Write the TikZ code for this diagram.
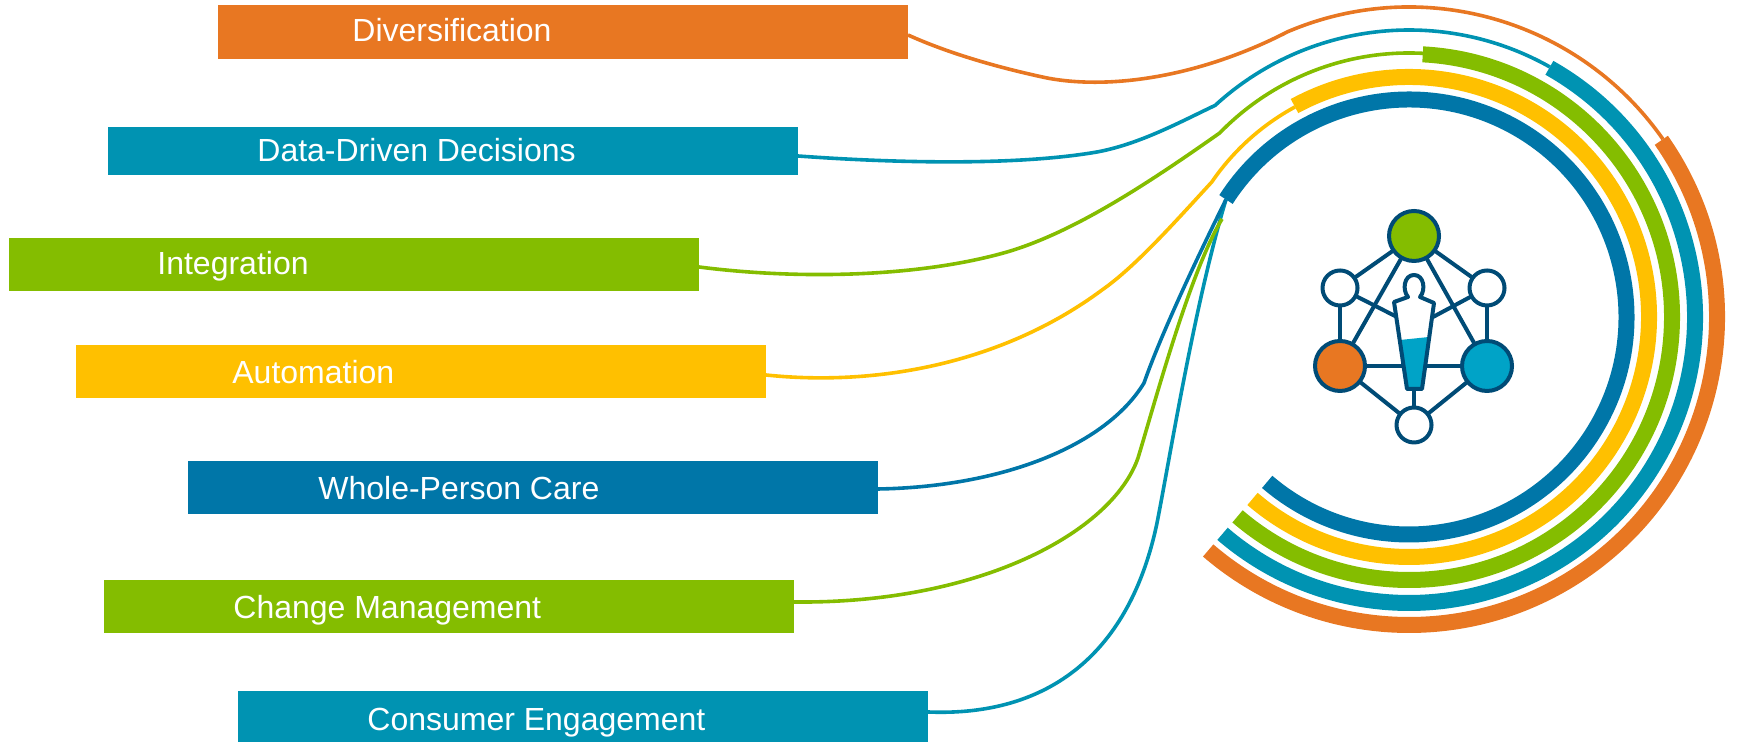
\documentclass[tikz,border=0pt]{standalone}
\usepackage{fontspec}
\setmainfont{Liberation Sans}
\usepackage{xcolor}
\usetikzlibrary{calc,backgrounds}
\definecolor{orangeband}{HTML}{E87722}
\definecolor{tealband}{HTML}{0093B2}
\definecolor{greenband}{HTML}{84BD00}
\definecolor{yellowband}{HTML}{FFC000}
\definecolor{blueband}{HTML}{0076A8}
\definecolor{iconline}{HTML}{004B76}
\definecolor{iconcyan}{HTML}{00A3C7}
\tikzset{
  banner/.style={rectangle, anchor=north west, inner sep=0pt, outer sep=0pt, minimum width=345pt},
  banner_text/.style={anchor=base west, inner sep=0pt, text=white, font=\fontsize{16}{19}\selectfont},
  ring/.style={line width=8pt},
  wire/.style={line width=1.8pt, line join=round},
  bigdot/.style={circle, draw=iconline, line width=2pt, minimum size=25pt, inner sep=0pt, outer sep=0pt},
  smalldot/.style={circle, draw=iconline, fill=white, line width=2pt, minimum size=17.5pt, inner sep=0pt, outer sep=0pt},
  iconedge/.style={draw=iconline, line width=2pt}
}

\begin{document}
\begin{tikzpicture}[x=0.5pt, y=0.5pt]
  \useasboundingbox (0,0) rectangle (1739,742);
  \coordinate (hub) at (1409,425);

  % Banners
  \node[banner, fill=orangeband, minimum height=27pt] (div) at (218,737) {};
  \node[banner, fill=tealband, minimum height=24pt] (data) at (108,615) {};
  \node[banner, fill=greenband, minimum height=26.5pt] (integ) at (9,504) {};
  \node[banner, fill=yellowband, minimum height=26.5pt] (auto) at (76,397) {};
  \node[banner, fill=blueband, minimum height=26.5pt] (whole) at (188,281) {};
  \node[banner, fill=greenband, minimum height=26.5pt] (change) at (104,162) {};
  \node[banner, fill=tealband, minimum height=25.5pt] (consumer) at (238,51) {};

  % Banner texts
  \node[banner_text] (divtext) at (352,700) {Diversification};
  \node[banner_text] (datatext) at (257,580) {Data-Driven Decisions};
  \node[banner_text] (integtext) at (157,467) {Integration};
  \node[banner_text] (autotext) at (232,358) {Automation};
  \node[banner_text] (wholetext) at (318,242) {Whole-Person Care};
  \node[banner_text] (changetext) at (233,123) {Change Management};
  \node[banner_text] (consumertext) at (367,11) {Consumer Engagement};

  % Rings
  \draw[ring, orangeband] ($(hub)+(35:308)$) coordinate (divring) arc[start angle=35, end angle=-130.7, radius=308];
  \draw[ring, tealband] ($(hub)+(60.6:286)$) coordinate (dataring) arc[start angle=60.6, end angle=-130.7, radius=286];
  \draw[ring, greenband] ($(hub)+(87:263)$) coordinate (integring) arc[start angle=87, end angle=-130.7, radius=263];
  \draw[ring, yellowband] ($(hub)+(118.5:240)$) coordinate (autoring) arc[start angle=118.5, end angle=-130.7, radius=240];
  \draw[ring, blueband] ($(hub)+(147.3:217.5)$) coordinate (wholering) arc[start angle=147.3, end angle=-130.7, radius=217.5];

  % Wires from the banners to the rings
  \draw[wire, orangeband] ($(div.east)+(0,-3)$) .. controls (950,688) and (1000,674) .. (1047,664)
       .. controls (1110,652) and (1200,665) .. ($(hub)+(113:310)$)
       arc[start angle=113, end angle=35, radius=310];
  \draw[wire, tealband] ($(data.east)+(0,-5)$) .. controls (880,580) and (1010,575) .. (1097,590)
       .. controls (1140,598) and (1180,620) .. ($(hub)+(132.5:287)$)
       arc[start angle=132.5, end angle=60.6, radius=287];
  \draw[wire, greenband] ($(integ.east)+(0,-2.5)$) .. controls (800,462) and (920,465) .. (1007,490)
       .. controls (1075,510) and (1150,560) .. ($(hub)+(135.8:264)$)
       arc[start angle=135.8, end angle=87, radius=264];
  \draw[wire, yellowband] ($(auto.east)+(0,-3.5)$) .. controls (880,355) and (1005,380) .. (1102,452)
       .. controls (1135,475) and (1175,520) .. ($(hub)+(145.6:239)$)
       arc[start angle=145.6, end angle=118.5, radius=239];

  % These three meet under the blue ring
  \coordinate (changeend) at (1222,523);
  \draw[wire, tealband] ($(consumer.east)+(0,4.5)$) .. controls (1050,25) and (1130,90) .. (1157,219)
       .. controls (1170,285) and (1195,440) .. (wholering);
  \draw[wire, greenband] ($(change.east)+(0,4.5)$) .. controls (980,138) and (1112,210) .. (1138,284)
       .. controls (1155,340) and (1190,470) .. (changeend);
  \draw[wire, blueband] ($(whole.east)+(0,-1.5)$) .. controls (1000,255) and (1105,295) .. (1144,359)
       .. controls (1160,405) and (1195,480) .. (wholering);

  % Icon
  \node[bigdot, fill=greenband] (top) at (1414,506) {};
  \node[bigdot, fill=orangeband] (left) at (1340,376) {};
  \node[bigdot, fill=iconcyan] (right) at (1487,376) {};
  \node[smalldot] (upleft) at (1340,454) {};
  \node[smalldot] (upright) at (1487,454) {};
  \node[smalldot] (low) at (1414,317) {};
  \coordinate (armleft) at (1397,425);
  \coordinate (armright) at (1433,425);
  \coordinate (foot) at (1414,353);

  \begin{scope}[on background layer]
    \draw[iconedge] (top) -- (upleft);
    \draw[iconedge] (top) -- (upright);
    \draw[iconedge] (top) -- (left);
    \draw[iconedge] (top) -- (right);
    \draw[iconedge] (upleft) -- (left);
    \draw[iconedge] (upright) -- (right);
    \draw[iconedge] (left) -- (right);
    \draw[iconedge] (left) -- (low);
    \draw[iconedge] (right) -- (low);
    \draw[iconedge] (upleft) -- (armleft);
    \draw[iconedge] (upright) -- (armright);
    \draw[iconedge] (foot) -- (low);
  \end{scope}

  % Person
  \fill[white] (1394,440) -- (1434,439) -- (1422,353) -- (1407,353) -- cycle;
  \fill[iconcyan] (1400,402) -- (1429,405) -- (1422,353) -- (1407,353) -- cycle;
  \draw[iconedge, line join=round] (1394,440) -- (1408,445) .. controls (1402,452) and (1404,467) .. (1414,467)
       .. controls (1424,467) and (1426,452) .. (1420,445) -- (1434,439) -- (1422,353) -- (1407,353) -- cycle;
\end{tikzpicture}
\end{document}
